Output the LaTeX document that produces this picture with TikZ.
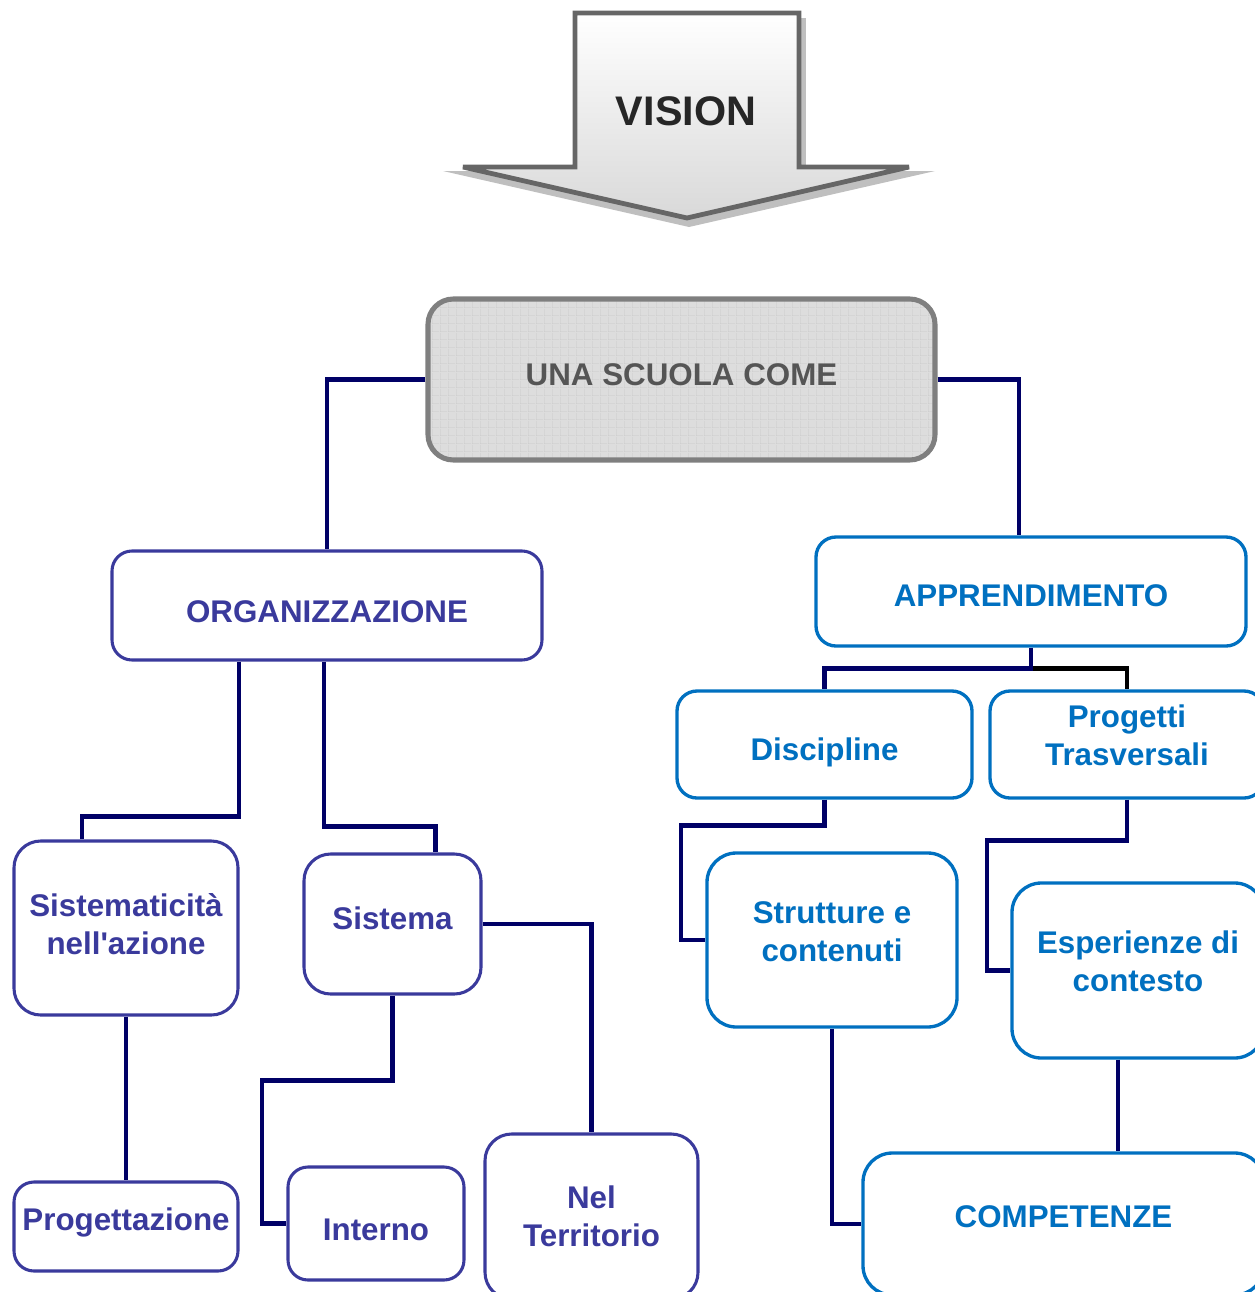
\documentclass[tikz,border=0pt]{standalone}
\usepackage{fontspec}
\setmainfont{Liberation Sans}
\usetikzlibrary{patterns.meta}
\definecolor{navy}{HTML}{000066}
\definecolor{orgcol}{HTML}{3A3A9C}
\definecolor{appcol}{HTML}{0070C0}
\definecolor{framegray}{HTML}{7F7F7F}
\definecolor{arrowgray}{HTML}{666666}
\definecolor{textgray}{HTML}{555555}
\tikzdeclarepattern{
  name=boxgrid, type=uncolored,
  bounding box={(0pt,0pt) and (6pt,6pt)},
  tile size={(6pt,6pt)},
  code={\draw[line width=0.6pt] (0pt,0pt) -- (6pt,0pt) (0pt,0pt) -- (0pt,6pt);}
}
\tikzset{
  wh/.style 2 args={minimum width=#1*0.75pt, minimum height=#2*0.75pt, inner sep=0pt},
  link/.style={navy, line width=3.6pt},
  topbox/.style={draw=framegray, line width=3.8pt, rounded corners=19pt,
    preaction={fill=gray!27}, preaction={pattern=boxgrid, pattern color=gray!42}},
  orgbox/.style={draw=orgcol, line width=2.3pt, rounded corners=15pt, fill=white},
  appbox/.style={draw=appcol, line width=2.5pt, rounded corners=15pt, fill=white},
  toptext/.style={text=textgray, font=\bfseries\fontsize{23.5}{28.5}\selectfont},
  orgtext/.style={text=orgcol, font=\bfseries\fontsize{23.5}{28.5}\selectfont, align=center},
  apptext/.style={text=appcol, font=\bfseries\fontsize{23.5}{28.5}\selectfont, align=center}
}
\begin{document}
\begin{tikzpicture}[x=0.75pt, y=-0.75pt]
	\useasboundingbox (0,0) rectangle (1255,1292);
	\clip (0,0) rectangle (1255,1292);

	% vision arrow
	\fill[gray!50] (443,171) -- (935,171) -- (689,227) -- cycle;
	\fill[gray!50] (799,18) rectangle (806,171);
	\draw[arrowgray, line width=3.6pt, miter limit=2, top color=white, bottom color=gray!30]
		(575,13) -- (799,13) -- (799,167) -- (909,167) -- (687,218) -- (463,167) -- (575,167) -- cycle;
	\node[text=black!85, font=\bfseries\fontsize{31}{36}\selectfont] (vision) at (686,111) {VISION};

	\node[topbox, wh={507}{161}, label={[toptext,yshift=3.4pt]center:UNA SCUOLA COME}] (top) at (681.5,379.5) {};
	\node[orgbox, wh={430}{109}, label={[orgtext,yshift=-4.9pt]center:ORGANIZZAZIONE}] (org) at (327,605.5) {};
	\node[appbox, wh={430}{109}, label={[apptext,yshift=-3.4pt]center:APPRENDIMENTO}] (app) at (1031,591.5) {};
	\node[appbox, wh={295}{107}, label={[apptext,yshift=-5.6pt]center:Discipline}] (disc) at (824.5,744.5) {};
	\node[appbox, wh={274}{107}, label={[apptext,yshift=7.1pt]center:{Progetti\\Trasversali}}] (prog) at (1127,744.5) {};
	\node[orgbox, rounded corners=20pt, wh={224}{174}, label={[orgtext,yshift=3pt]center:{Sistematicità\\nell\textquotesingle azione}}] (sist) at (126,928) {};
	\node[orgbox, rounded corners=20pt, wh={177}{140}, label={[orgtext,yshift=4.5pt]center:Sistema}] (sis) at (392.5,924) {};
	\node[appbox, rounded corners=22pt, wh={250}{174}, label={[apptext,yshift=6pt]center:{Strutture e\\contenuti}}] (strut) at (832,940) {};
	\node[appbox, rounded corners=22pt, wh={252}{175}, label={[apptext,yshift=7.1pt]center:{Esperienze di\\contesto}}] (esp) at (1138,970.5) {};
	\node[orgbox, wh={224}{89}, label={[orgtext,yshift=3.4pt]center:Progettazione}] (progett) at (126,1226.5) {};
	\node[orgbox, wh={176}{113}, label={[orgtext,yshift=-4.9pt]center:Interno}] (int) at (376,1223.5) {};
	\node[orgbox, rounded corners=20pt, wh={213}{165}, label={[orgtext]center:{Nel\\Territorio}}] (nel) at (591.5,1216.5) {};
	\node[appbox, rounded corners=22pt, wh={401}{142}, label={[apptext,yshift=5.25pt]center:COMPETENZE}] (comp) at (1063.5,1224) {};

	% connectors
	\draw[link] (top.west) -| (org.north);
	\draw[link] (top.east) -| ([xshift=-9pt]app.north);
	\draw[link] ([xshift=-66pt]org.south) -- ++(0,155) -| ([xshift=-33pt]sist.north);
	\draw[link] ([xshift=-2.25pt]org.south) -- ++(0,165) -| ([xshift=32pt]sis.north);
	\draw[link] (sist.south) -- (progett.north);
	\draw[link] (sis.east) -| (nel.north);
	\draw[link] (sis.south) -- ++(0,85) -- ++(-130.5,0) |- (int.west);
	\coordinate (fork) at ([yshift=-15.75pt]app.south);
	\draw[link,black] (fork) -| (prog.north);
	\draw[link] (app.south) -- (fork) -| (disc.north);
	\draw[link] (disc.south) -- ++(0,26) -- ++(-143.5,0) |- (strut.west);
	\draw[link] (prog.south) -- ++(0,41) -- ++(-140,0) |- (esp.west);
	\draw[link] (strut.south) |- (comp.west);
	\draw[link] ([xshift=-15pt]esp.south) -- ([xshift=-15pt]esp.south |- comp.north);
\end{tikzpicture}
\end{document}
